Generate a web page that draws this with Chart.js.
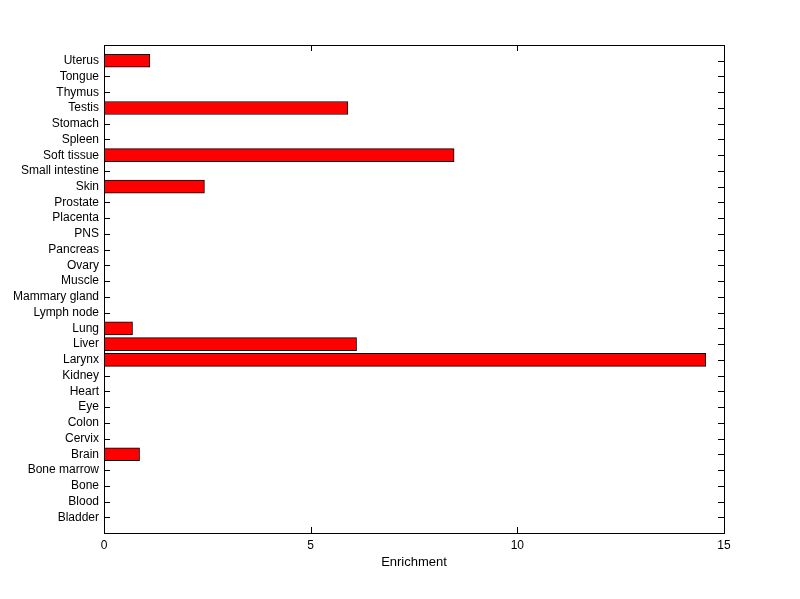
<!DOCTYPE html>
<html>
  <head>
    <title>Enrichment</title>
    <meta charset="utf-8" />
    <style>
      html, body { margin: 0; padding: 0; background: #fff; }
      #chart-container { width: 800px; height: 599px; }
    </style>
  </head>
  <body>
    <div id="chart-container">
      <canvas id="enrichment-chart" width="800" height="599"></canvas>
    </div>

    <script src="https://cdn.jsdelivr.net/npm/chart.js"></script>
    <script>
      // tissues, bottom to top
      var categories = [
        "Bladder", "Blood", "Bone", "Bone marrow", "Brain", "Cervix", "Colon", "Eye",
        "Heart", "Kidney", "Larynx", "Liver", "Lung", "Lymph node", "Mammary gland",
        "Muscle", "Ovary", "Pancreas", "PNS", "Placenta", "Prostate", "Skin",
        "Small intestine", "Soft tissue", "Spleen", "Stomach", "Testis", "Thymus",
        "Tongue", "Uterus"
      ];
      var enrichment = [
        0, 0, 0, 0, 0.86, 0, 0, 0,
        0, 0, 14.56, 6.11, 0.69, 0, 0,
        0, 0, 0, 0, 0, 0, 2.43,
        0, 8.47, 0, 0, 5.9, 0,
        0, 1.11
      ];
      var xTicks = [0, 5, 10, 15];

      Chart.defaults.font.family = "'Liberation Sans', Arial, sans-serif";
      Chart.defaults.font.size = 12;
      Chart.defaults.color = "#000";

      // one empty slot at each end, like the axis limits in the picture
      var labels = [""].concat(categories, [""]);
      var values = [null].concat(enrichment, [null]);

      // inward tick marks on all four sides (under the bars), then the box
      var frame = {
        id: "frame",
        beforeDatasetsDraw: function (chart) {
          var ctx = chart.ctx;
          var a = chart.chartArea;
          var xs = chart.scales.x;
          var ys = chart.scales.y;
          var len = 6;
          ctx.save();
          ctx.strokeStyle = "#000";
          ctx.lineWidth = 1;
          ctx.beginPath();
          for (var i = 1; i <= categories.length; i++) {
            var y = Math.round(ys.getPixelForTick(i)) + 0.5;
            ctx.moveTo(a.left, y);
            ctx.lineTo(a.left + len, y);
            ctx.moveTo(a.right, y);
            ctx.lineTo(a.right - len, y);
          }
          xTicks.forEach(function (v) {
            var x = Math.round(xs.getPixelForValue(v)) + 0.5;
            ctx.moveTo(x, a.bottom);
            ctx.lineTo(x, a.bottom - len);
            ctx.moveTo(x, a.top);
            ctx.lineTo(x, a.top + len);
          });
          ctx.stroke();
          ctx.restore();
        },
        afterDraw: function (chart) {
          var ctx = chart.ctx;
          var a = chart.chartArea;
          ctx.save();
          ctx.strokeStyle = "#000";
          ctx.lineWidth = 1;
          ctx.strokeRect(Math.round(a.left) + 0.5, Math.round(a.top) + 0.5,
            Math.round(a.right - a.left), Math.round(a.bottom - a.top));
          ctx.restore();
        }
      };

      new Chart(document.getElementById("enrichment-chart"), {
        type: "bar",
        data: {
          labels: labels,
          datasets: [
            {
              label: "Enrichment",
              data: values,
              backgroundColor: "#ff0000",
              borderColor: "#000",
              borderWidth: function (c) { return c.raw ? 1 : 0; },
              borderSkipped: false,
              barThickness: 13
            }
          ]
        },
        options: {
          indexAxis: "y",
          responsive: false,
          animation: false,
          layout: { padding: { top: 45, right: 76, left: 0, bottom: 0 } },
          plugins: {
            legend: { display: false },
            tooltip: { enabled: false }
          },
          scales: {
            x: {
              min: 0,
              max: 15,
              grid: { display: false, drawTicks: false },
              border: { display: false },
              ticks: { stepSize: 5, padding: 5, maxRotation: 0 },
              title: { display: true, text: "Enrichment", font: { size: 13 }, padding: { top: 4, bottom: 29 } },
              afterFit: function (s) { s.height = 66; }
            },
            y: {
              reverse: true,
              offset: false,
              grid: { display: false, drawTicks: false },
              border: { display: false },
              ticks: { autoSkip: false, padding: 5 },
              afterFit: function (s) { s.width = 104; }
            }
          }
        },
        plugins: [frame]
      });
    </script>
  </body>
</html>
